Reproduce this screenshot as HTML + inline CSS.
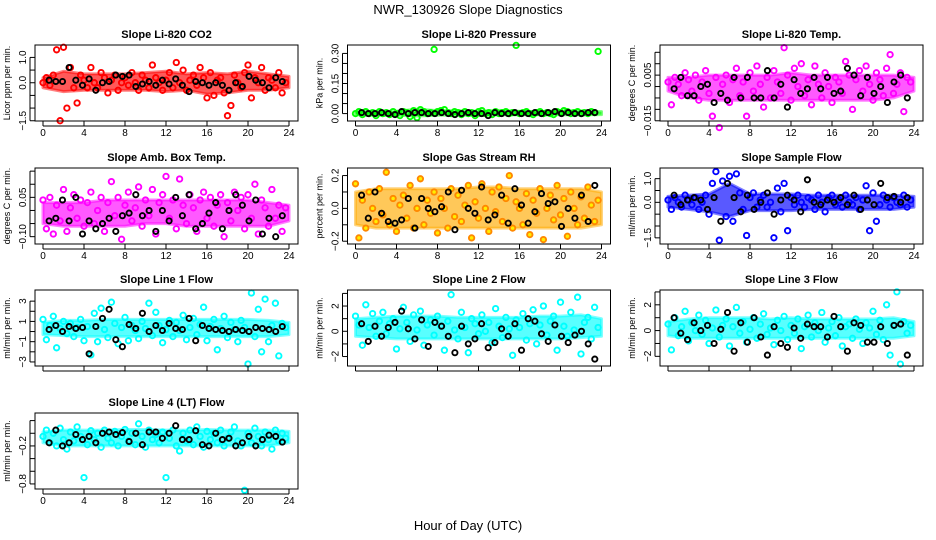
<!DOCTYPE html>
<html><head><meta charset="utf-8">
<style>
html,body{margin:0;padding:0;background:#fff;}
svg{display:block;font-family:"Liberation Sans",sans-serif;}
</style></head>
<body>
<svg id="chart" width="936" height="540" viewBox="0 0 936 540" xmlns="http://www.w3.org/2000/svg">
<text x="468" y="14" text-anchor="middle" font-size="13">NWR_130926  Slope Diagnostics</text>
<text x="468" y="530" text-anchor="middle" font-size="13">Hour of Day (UTC)</text>
</svg>
<script>
const hoursColored=[0,0.33,0.67,1,1.33,1.67,2,2.33,2.67,3,3.33,3.67,4,4.33,4.67,5,5.33,5.67,6,6.33,6.67,7,7.33,7.67,8,8.33,8.67,9,9.33,9.67,10,10.33,10.67,11,11.33,11.67,12,12.33,12.67,13,13.33,13.67,14,14.33,14.67,15,15.33,15.67,16,16.33,16.67,17,17.33,17.67,18,18.33,18.67,19,19.33,19.67,20,20.33,20.67,21,21.33,21.67,22,22.33,22.67,23,23.33,23.67];
const hoursBlack=[0.6,1.25,1.9,2.55,3.2,3.85,4.5,5.15,5.8,6.45,7.1,7.75,8.4,9.05,9.7,10.35,11.0,11.65,12.3,12.95,13.6,14.25,14.9,15.55,16.2,16.85,17.5,18.15,18.8,19.45,20.1,20.75,21.4,22.05,22.7,23.35];
const bandHours=[0,2,4,6,8,10,12,14,16,18,20,22,24];
const xTicks=[0,4,8,12,16,20,24];

const co2Colored=[0.0,0.2,-0.1,0.3,1.3,-1.5,1.4,-1.0,0.6,-0.2,-0.8,0.3,0.1,-0.2,0.6,0.0,-0.2,0.4,0.2,-0.4,0.1,0.3,-0.3,0.0,0.2,-0.1,0.4,0.0,-0.3,0.3,0.1,-0.2,0.7,0.2,0.0,-0.3,0.1,0.4,-0.2,0.8,0.0,0.5,-0.3,0.1,0.3,-0.1,0.6,0.2,-0.6,0.4,-0.5,0.1,0.2,-0.4,-1.3,-0.9,0.3,0.0,-0.2,0.4,0.7,-0.6,0.2,0.0,0.6,-0.3,0.2,0.1,-0.2,0.4,-0.4,0.0];
const co2Black=[0.1,0.05,0.05,0.6,0.1,-0.1,0.15,-0.3,0.0,0.05,0.3,0.25,0.3,-0.15,-0.05,0.05,-0.1,0.1,-0.05,0.15,-0.1,-0.35,0.05,0.0,-0.1,0.0,-0.1,-0.3,0.0,-0.15,0.25,0.1,0.0,-0.2,0.2,0.05];
const co2BandLow=[-0.2,-0.35,-0.3,-0.3,-0.3,-0.3,-0.35,-0.3,-0.45,-0.4,-0.3,-0.3,-0.2];
const co2BandHigh=[0.2,0.45,0.35,0.35,0.35,0.4,0.45,0.35,0.4,0.35,0.45,0.35,0.25];
const presColored=[0,0.01,-0.005,0.01,0,0.005,-0.01,0.01,0,0.005,-0.005,0.01,0,-0.01,0.01,0.005,-0.015,0.015,-0.02,0.02,0.01,0,0.005,0.32,0.01,0.015,0.02,0.005,0,0.01,0.005,-0.005,0.01,0,0.005,-0.01,0.01,0.015,0,0.005,-0.005,0.01,0,0.005,0.01,0,0.005,0.34,0,0.005,0.01,0,-0.005,0.005,0.01,0,0.005,0,-0.005,0.01,0.005,0.015,0.01,0,0.005,0.01,0,0.005,0,0.01,0.005,0.31];
const presBlack=[0.005,0,0,0.005,0,-0.005,0.01,0,0.005,0.005,0,0,0.005,0,-0.005,0,0.005,0,0,-0.01,0.005,0,0,0.005,0,0,0.005,0,0.005,0.01,0,0.005,0,0,0.005,0.005];
const presBandLow=[-0.006,-0.008,-0.008,-0.012,-0.008,-0.006,-0.01,-0.006,-0.006,-0.006,-0.006,-0.006,-0.005];
const presBandHigh=[0.01,0.012,0.012,0.022,0.015,0.014,0.012,0.016,0.012,0.01,0.014,0.014,0.01];
const tempColored=[0.002,-0.008,0.004,0.001,-0.004,0.006,0.003,-0.002,0.005,-0.006,0.002,0.007,-0.003,-0.013,0.004,-0.018,0.001,0.005,-0.007,0.003,0.008,-0.004,0.002,-0.013,0.006,-0.002,0.009,0.001,-0.009,0.004,-0.005,0.007,0.002,-0.003,0.017,0.005,-0.006,0.008,0.000,0.010,-0.004,0.003,-0.008,0.009,0.001,-0.005,0.006,0.000,-0.007,0.004,0.002,-0.003,0.011,0.005,-0.010,0.003,0.007,-0.002,0.009,0.001,-0.006,0.006,0.003,-0.004,0.008,0.014,-0.003,0.001,0.006,-0.011,0.004,0.002];
const tempBlack=[-0.001,0.004,-0.004,-0.004,0.000,0.001,-0.007,-0.003,-0.006,0.004,-0.005,0.004,-0.005,-0.005,0.007,-0.005,0.001,-0.009,0.003,-0.003,-0.001,0.004,-0.001,0.004,-0.003,-0.002,0.008,0.005,-0.004,0.004,-0.003,0.000,-0.007,0.002,0.005,-0.005];
const tempBandLow=[-0.002,-0.005,-0.006,-0.006,-0.006,-0.006,-0.006,-0.006,-0.006,-0.006,-0.006,-0.005,-0.002];
const tempBandHigh=[0.004,0.004,0.005,0.005,0.005,0.005,0.006,0.005,0.005,0.005,0.005,0.005,0.004];
const ambColored=[0.04,-0.07,0.05,-0.09,0.02,-0.04,0.08,-0.08,0.01,0.06,-0.03,0.04,-0.06,0.03,0.07,-0.05,0.0,0.05,-0.08,0.03,0.11,-0.02,0.05,-0.11,0.02,0.07,-0.04,0.01,0.09,-0.06,0.04,-0.02,0.08,-0.09,0.03,0.06,0.13,-0.03,0.04,-0.07,0.12,0.02,-0.05,0.06,0.01,-0.08,0.04,0.07,-0.03,0.05,-0.06,0.02,0.06,-0.10,0.03,-0.04,0.07,0.0,0.05,-0.07,0.06,-0.03,0.10,-0.09,0.04,0.01,-0.06,0.08,-0.03,0.02,-0.08,0.01];
const ambBlack=[-0.04,-0.03,0.04,-0.04,0.05,-0.09,-0.04,-0.07,-0.05,-0.03,-0.08,-0.02,-0.01,0.06,-0.02,0.0,-0.08,0.0,-0.04,0.05,-0.02,0.06,-0.07,-0.05,-0.01,0.03,-0.07,0.0,0.06,0.02,-0.04,0.04,-0.09,-0.03,-0.10,-0.02];
const ambBandLow=[-0.05,-0.06,-0.06,-0.06,-0.06,-0.05,-0.05,-0.06,-0.06,-0.06,-0.06,-0.06,-0.04];
const ambBandHigh=[0.03,0.03,0.03,0.04,0.04,0.04,0.04,0.04,0.04,0.04,0.04,0.03,0.02];
const rhColored=[0.15,-0.18,0.05,-0.12,0.10,0.0,-0.08,0.12,-0.04,0.22,-0.1,0.06,-0.14,0.02,0.08,-0.06,0.14,-0.12,0.0,0.18,-0.1,0.05,-0.03,0.1,-0.15,0.06,0.0,-0.12,0.12,-0.05,0.08,-0.08,0.02,0.14,-0.18,0.04,-0.06,0.15,0.0,-0.14,0.1,-0.02,0.13,-0.08,0.06,0.2,-0.12,0.04,0.0,-0.1,0.09,-0.16,0.05,-0.03,0.12,-0.19,0.0,0.08,-0.07,0.14,-0.04,0.06,-0.17,0.1,0.0,-0.1,0.07,-0.06,0.13,0.02,-0.08,0.05];
const rhBlack=[0.08,-0.06,0.1,-0.03,-0.08,-0.09,-0.07,0.06,-0.12,0.06,0.0,-0.02,0.01,0.1,-0.13,0.11,0.0,-0.03,0.13,-0.07,-0.04,0.08,-0.09,0.12,0.02,-0.09,-0.02,0.09,0.03,0.04,-0.11,0.0,-0.06,0.08,-0.08,0.14];
const rhBandLow=[-0.1,-0.12,-0.12,-0.12,-0.12,-0.12,-0.12,-0.12,-0.12,-0.12,-0.12,-0.12,-0.1];
const rhBandHigh=[0.1,0.12,0.12,0.12,0.12,0.12,0.13,0.13,0.12,0.12,0.12,0.12,0.1];
const flowColored=[0.1,-0.3,0.2,0.0,-0.2,0.3,0.1,-0.1,0.2,-0.3,0.0,0.3,-0.5,0.8,1.3,-1.6,0.9,-0.6,1.1,-0.8,1.2,0.4,-0.3,-1.4,0.2,0.4,-0.2,0.1,0.3,-0.2,0.0,-1.5,0.6,-0.4,0.8,-1.2,0.2,-0.1,0.3,0.0,-0.2,0.2,0.1,-0.3,0.3,0.0,-0.4,0.2,0.3,-0.1,0.1,-0.2,0.3,0.0,-0.1,0.2,-0.3,0.1,0.7,-1.2,0.4,-0.8,-0.1,0.3,0.1,-0.2,0.2,0.0,-0.1,0.3,-0.2,0.1];
const flowBlack=[0.3,-0.1,0.1,0.2,0.1,-0.3,0.2,-0.8,0.8,0.2,-0.4,0.3,-0.3,0.0,0.4,-0.5,0.1,0.3,0.1,-0.4,0.95,0.0,-0.1,0.1,0.0,0.2,-0.1,0.3,-0.3,0.1,-0.1,0.8,0.2,0.25,0.0,0.2];
const flowBandLow=[-0.2,-0.3,-0.4,-0.6,-0.35,-0.35,-0.35,-0.3,-0.3,-0.3,-0.3,-0.3,-0.2];
const flowBandHigh=[0.25,0.3,0.35,0.8,0.35,0.35,0.35,0.3,0.3,0.3,0.3,0.3,0.25];
const line1Colored=[1.2,-0.8,0.6,1.5,-1.6,0.3,1.0,-0.2,0.8,-0.5,0.4,1.2,-0.9,0.5,-2.3,1.8,-1.0,2.3,0.2,-0.6,2.9,0.8,-1.2,0.4,1.4,-0.9,0.6,0.1,-0.7,1.0,0.3,2.8,-0.4,1.9,0.6,-1.1,0.2,1.1,-0.5,0.9,0.1,1.6,-0.8,0.4,1.3,-0.3,0.7,2.4,-0.9,0.5,1.2,-1.8,0.3,1.5,-0.6,0.9,0.2,-1.0,1.1,0.4,-3.2,3.8,-0.5,2.2,-2.0,3.2,-1.0,0.6,2.8,-2.4,0.8,0.4];
const line1Black=[0.2,0.6,0.0,0.5,0.3,0.4,-2.2,0.5,1.3,2.2,-0.8,-1.5,0.7,0.3,1.8,0.0,0.6,0.1,0.8,0.3,0.2,1.3,-0.9,0.6,0.3,0.2,0.1,0.0,0.2,0.1,0.0,0.4,0.3,0.2,0.0,0.5];
const line1BandLow=[-0.3,-0.4,-0.5,-0.5,-0.5,-0.5,-0.5,-0.5,-0.5,-0.5,-0.5,-0.5,-0.3];
const line1BandHigh=[0.9,1.1,1.1,1.2,1.2,1.2,1.2,1.2,1.2,1.2,1.2,1.1,0.9];
const line2Colored=[1.2,0.5,-1.1,2.1,0.3,1.4,-0.4,0.8,1.5,-0.2,0.6,1.0,-1.4,0.2,1.9,0.7,-0.8,1.3,0.1,1.6,-1.1,0.5,0.9,-0.3,1.2,0.4,-1.5,0.8,2.9,0.1,-0.6,1.5,0.3,-1.7,1.0,0.6,-0.2,1.3,0.0,0.7,-0.9,1.8,0.4,-0.5,1.1,0.2,-1.9,0.9,0.3,1.4,-0.7,0.6,1.7,-1.0,0.5,2.0,-0.3,0.8,1.2,-1.5,2.3,0.4,-0.4,1.5,0.1,2.7,-1.8,0.7,1.1,-0.6,1.9,0.3];
const line2Black=[0.6,-0.8,0.4,-0.4,0.3,0.7,1.6,0.2,-0.6,0.9,-1.2,0.7,0.4,-0.4,-1.7,0.4,-1.0,-0.6,0.6,-1.3,-0.9,0.2,-0.4,0.6,-1.5,1.0,0.8,-0.2,-0.8,0.5,-0.4,-0.9,-0.3,0.0,-1.0,-2.2];
const line2BandLow=[-0.4,-0.5,-0.6,-0.6,-0.6,-0.6,-0.6,-0.6,-0.6,-0.6,-0.6,-0.5,-0.4];
const line2BandHigh=[1.0,1.1,1.2,1.2,1.2,1.1,1.1,1.1,1.1,1.2,1.2,1.3,1.0];
const line3Colored=[0.5,-1.5,1.0,-0.4,0.3,1.5,-0.8,0.6,0.0,1.2,-0.3,0.8,-1.0,0.2,1.6,-0.5,0.4,0.9,-1.2,0.3,1.8,-0.2,0.7,-0.9,0.1,1.0,-0.6,0.5,1.3,-0.3,0.2,-1.1,0.8,0.0,1.1,-0.7,0.4,-0.2,0.9,-1.4,0.3,1.2,-0.5,0.6,0.0,1.4,-0.9,0.2,0.7,-0.4,1.0,-1.2,0.3,0.5,-0.6,0.9,0.1,-1.0,0.6,0.2,1.5,-0.3,0.8,-0.7,2.0,-1.9,0.4,3.0,-2.6,0.7,-0.2,0.4];
const line3Black=[1.0,-0.2,-0.7,0.6,0.0,0.4,-1.0,0.1,1.4,-1.6,0.6,-0.9,1.0,-0.5,-1.9,0.3,-1.0,-1.3,0.2,-0.6,0.5,0.3,0.3,-0.5,1.1,0.3,-1.6,0.6,0.4,-0.9,-0.9,0.3,-1.0,0.4,0.5,-1.9];
const line3BandLow=[-0.4,-0.6,-0.6,-0.6,-0.6,-0.6,-0.6,-0.6,-0.6,-0.6,-0.6,-0.6,-0.4];
const line3BandHigh=[0.7,0.9,1.0,1.0,1.0,0.9,1.0,0.9,0.9,0.9,0.9,1.0,0.7];
const line4Colored=[-0.05,0.05,-0.15,0.0,-0.2,0.08,-0.1,-0.25,0.02,-0.12,0.1,-0.05,-0.7,-0.18,0.04,-0.1,0.0,-0.22,0.05,-0.08,-0.15,0.03,-0.2,-0.05,0.06,-0.12,0.0,-0.18,0.15,-0.05,-0.22,0.05,-0.1,-0.02,-0.15,0.02,-0.7,-0.08,0.05,-0.2,-0.28,0.0,-0.12,0.05,-0.18,0.1,-0.05,-0.22,0.03,-0.1,0.0,-0.15,0.05,-0.2,-0.08,0.02,0.1,-0.12,-0.2,-0.9,0.0,-0.15,0.08,-0.05,-0.2,0.02,-0.1,-0.25,0.05,-0.12,0.0,-0.08];
const line4Black=[-0.15,0.05,-0.2,-0.15,-0.02,-0.1,-0.05,-0.15,0.0,0.02,-0.02,0.01,-0.13,0.0,-0.18,0.02,0.02,-0.08,0.0,0.12,-0.1,-0.1,0.04,-0.18,-0.2,0.0,-0.1,-0.08,-0.2,-0.15,-0.05,-0.2,-0.1,-0.03,-0.05,-0.14];
const line4BandLow=[-0.15,-0.2,-0.2,-0.2,-0.2,-0.2,-0.2,-0.2,-0.2,-0.2,-0.2,-0.2,-0.15];
const line4BandHigh=[0.02,0.05,0.05,0.05,0.06,0.06,0.05,0.05,0.06,0.05,0.05,0.05,0.03];

const panels=[
 {name:'co2',title:'Slope Li-820 CO2',ylab:'Licor ppm per min.',col:0,row:0,ymin:-1.51,ymax:1.49,ticks:[-1.5,-1,-0.5,0,0.5,1],labels:[[1,'1.0'],[0,'0.0'],[-1.5,'\u22121.5']],c:co2Colored,b:co2Black,lo:co2BandLow,hi:co2BandHigh,stroke:'#ff0000',fill:'none',band:'#ff0000',xlab:true},
 {name:'pressure',title:'Slope Li-820 Pressure',ylab:'kPa per min.',col:1,row:0,ymin:-0.037,ymax:0.342,ticks:[0,0.05,0.1,0.15,0.2,0.25,0.3],labels:[[0,'0.00'],[0.15,'0.15'],[0.3,'0.30']],c:presColored,b:presBlack,lo:presBandLow,hi:presBandHigh,stroke:'#00ff00',fill:'none',band:'#00ff00',xlab:true},
 {name:'li820-temp',title:'Slope Li-820 Temp.',ylab:'degrees C per min.',col:2,row:0,ymin:-0.0151,ymax:0.0182,ticks:[-0.015,-0.01,-0.005,0,0.005,0.01,0.015],labels:[[0.005,'0.005'],[-0.015,'\u22120.015']],c:tempColored,b:tempBlack,lo:tempBandLow,hi:tempBandHigh,stroke:'#ff00ff',fill:'none',band:'#ff00ff',xlab:true},
 {name:'amb-box-temp',title:'Slope Amb. Box Temp.',ylab:'degrees C per min.',col:0,row:1,ymin:-0.128,ymax:0.162,ticks:[-0.1,-0.05,0,0.05,0.1,0.15],labels:[[0.05,'0.05'],[-0.1,'\u22120.10']],c:ambColored,b:ambBlack,lo:ambBandLow,hi:ambBandHigh,stroke:'#ff00ff',fill:'none',band:'#ff00ff',xlab:true},
 {name:'gas-stream-rh',title:'Slope Gas Stream RH',ylab:'percent per min.',col:1,row:1,ymin:-0.217,ymax:0.246,ticks:[-0.2,-0.1,0,0.1,0.2],labels:[[0.2,'0.2'],[0,'0.0'],[-0.2,'\u22120.2']],c:rhColored,b:rhBlack,lo:rhBandLow,hi:rhBandHigh,stroke:'#ff8800',fill:'#ffee00',band:'#ffaa00',xlab:true},
 {name:'sample-flow',title:'Slope Sample Flow',ylab:'ml/min per min.',col:2,row:1,ymin:-1.76,ymax:1.45,ticks:[-1.5,-1,-0.5,0,0.5,1],labels:[[1,'1.0'],[0,'0.0'],[-1.5,'\u22121.5']],c:flowColored,b:flowBlack,lo:flowBandLow,hi:flowBandHigh,stroke:'#0000ff',fill:'none',band:'#0000ff',xlab:true},
 {name:'line1-flow',title:'Slope Line 1 Flow',ylab:'ml/min per min.',col:0,row:2,ymin:-3.4,ymax:4.1,ticks:[-3,-2,-1,0,1,2,3],labels:[[3,'3'],[1,'1'],[-1,'\u22121'],[-3,'\u22123']],c:line1Colored,b:line1Black,lo:line1BandLow,hi:line1BandHigh,stroke:'#00ffff',fill:'none',band:'#00ffff',xlab:false},
 {name:'line2-flow',title:'Slope Line 2 Flow',ylab:'ml/min per min.',col:1,row:2,ymin:-2.75,ymax:3.27,ticks:[-2,-1,0,1,2,3],labels:[[2,'2'],[0,'0'],[-2,'\u22122']],c:line2Colored,b:line2Black,lo:line2BandLow,hi:line2BandHigh,stroke:'#00ffff',fill:'none',band:'#00ffff',xlab:false},
 {name:'line3-flow',title:'Slope Line 3 Flow',ylab:'ml/min per min.',col:2,row:2,ymin:-2.75,ymax:3.15,ticks:[-2,-1,0,1,2,3],labels:[[2,'2'],[0,'0'],[-2,'\u22122']],c:line3Colored,b:line3Black,lo:line3BandLow,hi:line3BandHigh,stroke:'#00ffff',fill:'none',band:'#00ffff',xlab:false},
 {name:'line4-flow',title:'Slope Line 4 (LT) Flow',ylab:'ml/min per min.',col:0,row:3,ymin:-0.88,ymax:0.32,ticks:[-0.8,-0.6,-0.4,-0.2,0,0.2],labels:[[-0.2,'\u22120.2'],[-0.8,'\u22120.8']],c:line4Colored,b:line4Black,lo:line4BandLow,hi:line4BandHigh,stroke:'#00ffff',fill:'none',band:'#00ffff',xlab:true}
];

const NS='http://www.w3.org/2000/svg';
const svg=document.getElementById('chart');
function mk(tag,attrs,parent){const e=document.createElementNS(NS,tag);for(const k in attrs)e.setAttribute(k,attrs[k]);(parent||svg).appendChild(e);return e;}
const colX0=[43,355.5,668], rowTop=[45,168,290,413], BOXH=76, XSPAN=246;

panels.forEach(p=>{
  const g=mk('g',{});
  
  
  const x0=colX0[p.col], top=rowTop[p.row], bot=top+BOXH;
  const left=x0-8, right=x0+XSPAN+9;
  const xs=h=>x0+h/24*XSPAN;
  const ys=v=>bot-(v-p.ymin)/(p.ymax-p.ymin)*BOXH;
  const cx=(left+right)/2;
  const t=mk('text',{x:cx,y:top-7,'text-anchor':'middle','font-size':11,'font-weight':'bold'},g);
  t.textContent=p.title;
  
  
  const pts=bandHours.map((h,i)=>xs(h).toFixed(1)+','+ys(p.hi[i]).toFixed(1)).concat(bandHours.slice().reverse().map((h,j)=>{const i=bandHours.length-1-j;return xs(h).toFixed(1)+','+ys(p.lo[i]).toFixed(1);}));
  const band=mk('polygon',{points:pts.join(' '),fill:p.band,stroke:p.band,'stroke-width':3,'stroke-linejoin':'round','fill-opacity':0.65,'stroke-opacity':0.5},g);
  
  
  const pg=mk('g',{},g);
  
  
  p.c.forEach((v,i)=>{
    const c=mk('circle',{cx:xs(hoursColored[i]).toFixed(1),cy:ys(v).toFixed(1),r:2.7,fill:p.fill,stroke:p.stroke,'stroke-width':1.9},pg);
    
    
  });
  const bg=mk('g',{},g);
  
  
  p.b.forEach((v,i)=>{
    const c=mk('circle',{cx:xs(hoursBlack[i]).toFixed(1),cy:ys(v).toFixed(1),r:2.6,fill:'none',stroke:'#000','stroke-width':1.9},bg);
    
    
  });
  const box=mk('rect',{x:left,y:top,width:right-left,height:BOXH,fill:'none',stroke:'#000','stroke-width':1},g);
  
  
  xTicks.forEach(h=>{
    mk('line',{x1:xs(h),x2:xs(h),y1:bot,y2:bot+5,stroke:'#000'},g);
    if(p.xlab){const l=mk('text',{x:xs(h),y:bot+15,'text-anchor':'middle','font-size':10},g);l.textContent=h;
      
      }
  });
  mk('line',{x1:xs(0),x2:xs(24),y1:bot+5,y2:bot+5,stroke:'#000'},g);
  p.ticks.forEach(v=>mk('line',{x1:left-5,x2:left,y1:ys(v),y2:ys(v),stroke:'#000'},g));
  mk('line',{x1:left-5,x2:left-5,y1:ys(p.ticks[0]),y2:ys(p.ticks[p.ticks.length-1]),stroke:'#000'},g);
  p.labels.forEach(([v,s])=>{
    const l=mk('text',{x:0,y:0,'text-anchor':'middle','font-size':10,transform:`translate(${left-9},${ys(v)}) rotate(-90)`},g);
    l.textContent=s;
    
    
  });
  const yl=mk('text',{x:0,y:0,'text-anchor':'middle','font-size':9,transform:`translate(${left-25},${(top+bot)/2}) rotate(-90)`},g);
  yl.textContent=p.ylab;
  
  
});
</script>
</body></html>
